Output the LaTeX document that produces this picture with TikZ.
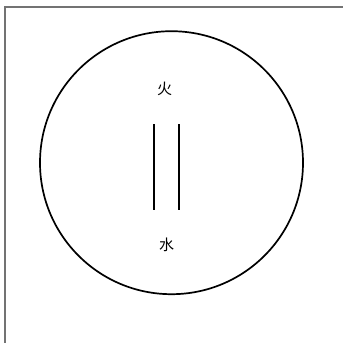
\documentclass[tikz,border=0pt]{standalone}
\usepackage{fontspec}
\newfontfamily\cjk{Noto Sans CJK SC}
\usetikzlibrary{positioning}
\tikzset{
  rim/.style={draw=black, line width=1.7pt},
  frameline/.style={draw=black!55, line width=1.4pt},
  zi/.style={font=\cjk\fontsize{15}{15}\selectfont, inner sep=0pt},
  bar/.style={draw=black, line width=2pt},
}
\begin{document}
\begin{tikzpicture}[x=1pt, y=-1pt]
\useasboundingbox (0,0) rectangle (343,343);
\draw[frameline] (343,7) -- (5,7) -- (5,343);
\node[rim, circle, minimum size=263pt, inner sep=0pt] (yuan) at (171.5,162.7) {};
\node[zi] (huo) at (164.5,89) {火};
\node[zi] (shui) at (166.5,245) {水};
\coordinate (la) at (154.3,124);
\coordinate (lb) at (154.3,210);
\coordinate (ra) at (179.3,124);
\coordinate (rb) at (179.3,210);
\draw[bar] (la) -- (lb);
\draw[bar] (ra) -- (rb);
\end{tikzpicture}
\end{document}
